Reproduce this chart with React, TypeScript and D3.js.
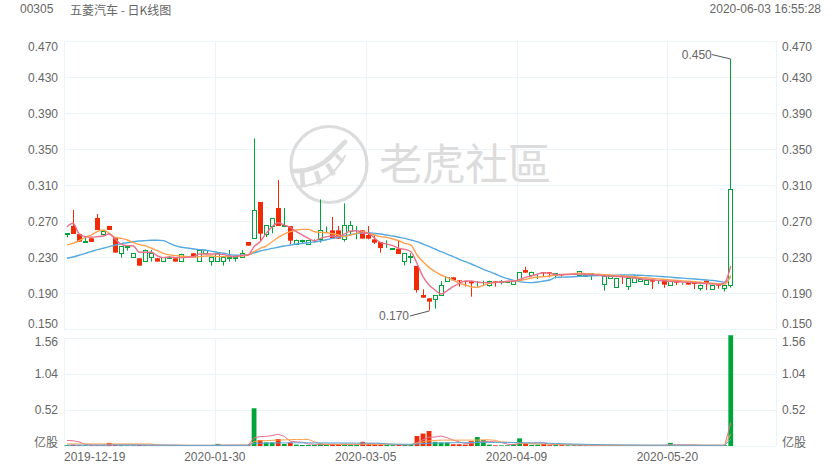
import React from "react";
import * as D3 from "d3";

const opens = [.2552,.2645,.2556,.2463,.2508,.2734,.2560,.2645,.2515,.2341,.2412,.2297,.2286,.2256,.2297,.2286,.2252,.2286,.2286,.2252,.2341,.2341,.2252,.2341,.2252,.2252,.2252,.2286,.2286,.2297,.2467,
.2507,.2911,.2559,.2644,.2844,.2640,.2644,.2448,.2481,.2448,.2489,.2496,.2596,.2596,.2596,.2496,.2592,.2585,.2596,.2544,.2496,.2466,.2400,.2392,.2392,.2259,.2303,
.2200,.1878,.1841,.1837,.1874,.2029,.2074,.2041,.2033,.2030,.2007,.2014,.1992,.2030,.2026,.2026,.1996,.2044,.2155,.2096,.2099,.2133,.2130,
.2096,.2107,.2100,.2100,.2104,.2089,.2096,.2096,.1996,.2070,.1963,.2096,.1974,.2026,.2037,.1996,.2048,.2036,.2041,.1993,.2037,.2000,.2026,.2011,.1959,.2037,.1948,.1993,.1952,.1993];
const closes = [.2563,.2556,.2471,.2478,.2467,.2600,.2593,.2600,.2349,.2419,.2419,.2341,.2204,.2382,.2345,.2249,.2297,.2300,.2249,.2337,.2342,.2297,.2382,.2382,.2297,.2341,.2297,.2297,.2297,.2341,.2426,
.2819,.2559,.2652,.2729,.2644,.2652,.2481,.2493,.2493,.2489,.2493,.2596,.2600,.2504,.2504,.2652,.2652,.2592,.2504,.2504,.2459,.2400,.2401,.2400,.2333,.2341,.2307,
.1933,.1848,.1804,.1874,.1989,.2074,.2041,.2033,.2030,.2007,.2015,.2015,.2030,.2026,.2030,.2030,.2033,.2130,.2126,.2137,.2100,.2118,.2111,
.2119,.2100,.2104,.2104,.2141,.2104,.2118,.2100,.2085,.2089,.2063,.2081,.2070,.2074,.2052,.2048,.2026,.2037,.1993,.2030,.2015,.2004,.1993,.2000,.1993,.2007,.1989,.1989,.1993,.3056];
const highs = [.2563,.2822,.2556,.2526,.2508,.2778,.2593,.2645,.2515,.2419,.2419,.2341,.2286,.2382,.2378,.2286,.2297,.2311,.2286,.2337,.2342,.2341,.2382,.2382,.2297,.2341,.2297,.2378,.2297,.2378,.2467,
.3618,.2911,.2652,.2729,.3155,.2844,.2644,.2493,.2493,.2489,.2496,.2940,.2640,.2744,.2644,.2896,.2700,.2644,.2596,.2644,.2544,.2466,.2485,.2400,.2485,.2341,.2341,
.2200,.1941,.1841,.1874,.2033,.2074,.2074,.2041,.2033,.2033,.2033,.2036,.2037,.2030,.2044,.2033,.2033,.2130,.2192,.2137,.2100,.2133,.2130,
.2119,.2107,.2104,.2104,.2141,.2104,.2118,.2100,.2085,.2089,.2063,.2096,.2070,.2100,.2052,.2048,.2048,.2037,.2041,.2030,.2037,.2010,.2026,.2011,.1993,.2037,.1989,.1993,.1993,.4500];
const lows = [.2519,.2556,.2471,.2463,.2467,.2600,.2560,.2600,.2349,.2293,.2371,.2297,.2204,.2256,.2249,.2249,.2252,.2278,.2249,.2252,.2341,.2297,.2252,.2341,.2204,.2252,.2204,.2249,.2249,.2297,.2426,
.2507,.2470,.2521,.2563,.2644,.2640,.2444,.2448,.2444,.2448,.2459,.2459,.2570,.2504,.2504,.2470,.2544,.2496,.2504,.2496,.2444,.2348,.2400,.2392,.2333,.2207,.2230,
.1904,.1848,.1704,.1726,.1874,.2029,.2041,.1970,.1970,.1859,.1970,.1985,.1970,.1970,.1996,.2015,.1996,.2044,.2126,.2096,.2055,.2081,.2074,
.2063,.2081,.2100,.2100,.2104,.2078,.2044,.2096,.1926,.2070,.1963,.2000,.1933,.2026,.2037,.1996,.1944,.2000,.1959,.1993,.1989,.1992,.1993,.1944,.1926,.1933,.1948,.1948,.1915,.1959];

const ma5 = [.2637,.2675,.2556,.2526,.2519,.2526,.2533,.2556,.2497,.2441,.2426,.2423,.2352,.2352,.2352,.2311,.2293,.2300,.2293,.2293,.2297,.2304,.2334,.2334,.2334,.2334,.2326,.2311,.2304,.2319,.2322,
.2415,.2470,.2563,.2637,.2681,.2655,.2629,.2581,.2544,.2507,.2481,.2507,.2526,.2533,.2526,.2556,.2589,.2592,.2570,.2563,.2507,.2459,.2444,.2426,.2396,.2385,.2359,
.2230,.2081,.1989,.1933,.1889,.1926,.1970,.2007,.2033,.2033,.2022,.2015,.2015,.2018,.2022,.2030,.2030,.2052,.2074,.2089,.2111,.2126,.2118,
.2107,.2105,.2106,.2108,.2110,.2106,.2104,.2100,.2092,.2088,.2084,.2081,.2074,.2066,.2058,.2052,.2047,.2040,.2035,.2030,.2027,.2022,.2018,.2015,.2008,.2004,.2000,.1996,.2015,.2200];
const ma10 = [.2434,.2452,.2482,.2519,.2544,.2582,.2600,.2563,.2519,.2507,.2489,.2459,.2437,.2423,.2397,.2371,.2341,.2323,.2315,.2308,.2304,.2300,.2304,.2311,.2311,.2304,.2304,.2304,.2304,.2311,.2322,
.2359,.2396,.2422,.2470,.2518,.2555,.2581,.2600,.2607,.2607,.2581,.2574,.2570,.2559,.2544,.2526,.2544,.2563,.2581,.2563,.2544,.2526,.2518,.2500,.2481,.2452,.2433,
.2322,.2248,.2185,.2137,.2100,.2074,.2044,.2007,.1989,.1970,.1963,.1985,.2007,.2018,.2022,.2026,.2030,.2037,.2052,.2067,.2078,.2081,.2089,
.2100,.2104,.2109,.2114,.2119,.2115,.2112,.2108,.2104,.2100,.2096,.2090,.2085,.2080,.2074,.2069,.2063,.2057,.2050,.2044,.2040,.2035,.2030,.2025,.2019,.2013,.2008,.2003,.1996,.2096];
const ma20 = [.2286,.2300,.2319,.2341,.2360,.2382,.2397,.2415,.2433,.2449,.2459,.2470,.2478,.2482,.2486,.2486,.2482,.2452,.2423,.2408,.2400,.2389,.2382,.2375,.2363,.2352,.2341,.2326,.2319,.2319,.2323,
.2345,.2367,.2381,.2396,.2409,.2422,.2433,.2444,.2452,.2459,.2468,.2478,.2492,.2507,.2520,.2533,.2548,.2563,.2567,.2570,.2563,.2555,.2544,.2533,.2520,.2507,.2489,
.2470,.2444,.2418,.2389,.2359,.2333,.2304,.2274,.2248,.2222,.2193,.2163,.2137,.2111,.2081,.2059,.2041,.2026,.2018,.2015,.2022,.2033,.2044,
.2074,.2076,.2078,.2081,.2085,.2089,.2090,.2093,.2095,.2096,.2098,.2100,.2100,.2100,.2098,.2093,.2090,.2085,.2081,.2076,.2070,.2065,.2060,.2055,.2050,.2045,.2040,.2030,.2020,.2080];

const volumes = [.012,.020,.012,.010,.010,.010,.010,.045,.015,.012,.010,.010,.015,.012,.010,.010,.010,.010,.010,.008,.008,.008,.008,.008,.010,.030,.010,.010,.008,.008,.012,
.545,.087,.053,.053,.100,.030,.053,.020,.015,.015,.015,.035,.020,.030,.025,.025,.020,.015,.060,.035,.025,.020,.015,.012,.015,.015,.015,
.144,.180,.216,.060,.050,.050,.025,.025,.020,.070,.130,.085,.020,.010,.010,.010,.030,.110,.040,.015,.020,.030,.012,
.015,.012,.010,.010,.012,.010,.010,.008,.012,.010,.010,.010,.010,.008,.008,.008,.010,.008,.010,.045,.010,.008,.008,.010,.008,.010,.010,.008,.012,1.60];
const volMa5 = [.080,.075,.060,.025,.015,.013,.012,.018,.018,.018,.018,.018,.014,.012,.012,.012,.012,.011,.011,.010,.009,.009,.008,.008,.008,.012,.012,.013,.013,.013,.012,
.120,.135,.140,.150,.170,.140,.070,.060,.055,.030,.025,.025,.022,.023,.023,.026,.025,.023,.030,.030,.030,.030,.030,.022,.017,.015,.018,
.050,.090,.125,.130,.144,.120,.085,.060,.035,.035,.055,.066,.065,.060,.050,.025,.018,.036,.040,.040,.045,.045,.025,
.022,.020,.018,.016,.012,.012,.011,.010,.011,.010,.010,.010,.010,.010,.009,.009,.009,.009,.009,.016,.016,.016,.016,.016,.010,.009,.009,.009,.010,.336];
const volMa10 = [.030,.030,.030,.030,.030,.030,.030,.030,.030,.030,.030,.030,.030,.030,.030,.015,.012,.012,.012,.011,.011,.010,.010,.010,.010,.010,.010,.011,.011,.011,.011,
.065,.075,.078,.082,.085,.088,.092,.094,.095,.095,.060,.030,.028,.027,.026,.026,.025,.025,.026,.026,.026,.025,.024,.024,.024,.022,.020,
.040,.060,.075,.080,.085,.085,.085,.085,.085,.085,.085,.090,.090,.080,.060,.055,.050,.040,.035,.030,.028,.028,.028,
.028,.026,.024,.022,.020,.018,.016,.014,.012,.011,.011,.010,.010,.010,.010,.010,.010,.010,.010,.012,.012,.012,.012,.012,.012,.012,.012,.012,.012,.170];
const volMa20 = [.012,.012,.012,.013,.013,.013,.013,.014,.014,.014,.014,.014,.014,.014,.014,.014,.013,.012,.011,.010,.009,.009,.009,.009,.009,.010,.010,.010,.010,.010,.012,
.038,.040,.042,.044,.045,.045,.046,.046,.046,.046,.046,.045,.045,.044,.044,.044,.043,.042,.042,.042,.042,.040,.030,.026,.025,.025,.024,
.030,.034,.040,.042,.045,.046,.047,.048,.048,.049,.050,.052,.052,.052,.050,.050,.050,.048,.047,.046,.045,.045,.040,
.035,.032,.030,.028,.026,.024,.022,.020,.018,.017,.016,.015,.014,.014,.013,.013,.012,.012,.012,.012,.012,.012,.012,.011,.011,.011,.011,.011,.011,.097];

const bandCount = 118;
const priceTicks = [0.47, 0.43, 0.39, 0.35, 0.31, 0.27, 0.23, 0.19, 0.15];
const volumeTicks = [0.52, 1.04, 1.56];
const dateLabels = ["2019-12-19", "2020-01-30", "2020-03-05", "2020-04-09", "2020-05-20"];
const dateIndex = [0, 25, 50, 75, 100];
const maxPoint = { index: 110, value: 0.45, label: "0.450" };
const minPoint = { index: 60, value: 0.17, label: "0.170" };

const GREEN = "#00a53a", RED = "#f02a05", PINK = "#e8708c", ORANGE = "#ffa04d", BLUE = "#55a9e0";
const GRID = "#ebf4f9", TEXT = "#666", WM = "#dcdcdc";
const FONT = "'Liberation Sans', Arial, sans-serif";
const CJK = "'Noto Sans CJK SC', sans-serif";

const L = 64, R = 776;
const x = D3.scaleLinear().domain([0, bandCount]).range([L, R]);
const cx = (i: number) => x(i + 0.5);
const y = D3.scaleLinear().domain([0.15, 0.47]).range([329, 41]);
const vy = D3.scaleLinear().domain([0, 1.56]).range([446, 338]);
const priceLine = D3.line<number>().x((_, i) => cx(i)).y((d) => y(d)).curve(D3.curveMonotoneX);
const volLine = D3.line<number>().x((_, i) => cx(i)).y((d) => vy(d));

function Watermark() {
  return (
    <g fill="none" stroke={WM} strokeLinecap="round">
      <circle cx={329} cy={164.5} r={38} strokeWidth={3.2} />
      <path d="M292,171 C305,172 322,168 335,152 L345,142" strokeWidth={4.6} />
      <path d="M297,187 C315,186 333,178 345,156" strokeWidth={2} />
      <g strokeLinecap="butt" strokeWidth={4.6}>
        <path d="M302,172 L303,187" />
        <path d="M316,171 L320,184" />
        <path d="M327,164 L334,175" />
        <path d="M336,155 L343,162" strokeWidth={3.5} />
      </g>
      <text x={379} y={180} fontSize={43} stroke="none" fontFamily="'Noto Sans CJK TC', sans-serif" fill={WM}>老虎社區</text>
    </g>
  );
}

function Candle({ i }: { i: number }) {
  const o = opens[i], c = closes[i], up = c >= o;
  const col = up ? GREEN : RED;
  const px = Math.floor(cx(i));
  const top = y(Math.max(o, c)), bot = y(Math.min(o, c));
  const wick = px + 0.5;
  return (
    <g>
      <line x1={wick} x2={wick} y1={y(highs[i])} y2={y(lows[i])} stroke={col} strokeWidth={1} />
      {up ? (
        <rect x={px - 1.5} y={Math.round(top) + 0.5} width={4} height={Math.max(0, Math.round(bot) - Math.round(top))} fill="#fff" stroke={col} strokeWidth={1} />
      ) : (
        <rect x={px - 2} y={top} width={5} height={Math.max(1, bot - top)} fill={col} />
      )}
    </g>
  );
}

function Tick({ xx, yy, anchor, children }: any) {
  return (
    <text x={xx} y={yy} textAnchor={anchor} dominantBaseline="central" fontSize={12} fontFamily={FONT} fill={TEXT}>{children}</text>
  );
}

function priceLabelY(v: number) {
  if (v === 0.47) return y(v) + 6;
  if (v === 0.15) return y(v) - 5.5;
  return y(v) + 0.5;
}
function volLabelY(v: number) {
  return v === 1.56 ? vy(v) + 4 : vy(v);
}

export default function App() {
  const idx = D3.range(closes.length);
  return (
    <svg width={840} height={470} style={{ position: "absolute", left: 0, top: 0, background: "#fff" }}>
      <text x={20} y={9} dominantBaseline="central" fontSize={12} fontFamily={FONT} fill={TEXT}>00305</text>
      <text x={70} y={9} dominantBaseline="central" fontSize={12} fontFamily={CJK} fill={TEXT}>五菱汽车 - 日K线图</text>
      <text x={821} y={9} textAnchor="end" dominantBaseline="central" fontSize={12} fontFamily={FONT} fill={TEXT}>2020-06-03 16:55:28</text>

      {priceTicks.map((v) => (
        <line key={v} x1={L} x2={R} y1={Math.round(y(v)) + 0.5} y2={Math.round(y(v)) + 0.5} stroke={GRID} />
      ))}
      {[0, ...volumeTicks].map((v) => (
        <line key={v} x1={L} x2={R} y1={Math.round(vy(v)) + 0.5} y2={Math.round(vy(v)) + 0.5} stroke={GRID} />
      ))}
      {dateIndex.map((d) => (
        <g key={d}>
          <line x1={Math.round(x(d)) + 0.5} x2={Math.round(x(d)) + 0.5} y1={41} y2={329} stroke={GRID} />
          <line x1={Math.round(x(d)) + 0.5} x2={Math.round(x(d)) + 0.5} y1={338} y2={446} stroke={GRID} />
        </g>
      ))}
      <line x1={R + 0.5} x2={R + 0.5} y1={41} y2={329} stroke={GRID} />
      <line x1={R + 0.5} x2={R + 0.5} y1={338} y2={446} stroke={GRID} />

      <Watermark />

      {idx.map((i) => <Candle key={i} i={i} />)}
      <path d={priceLine(ma20) || ""} fill="none" stroke={BLUE} strokeWidth={1.4} />
      <path d={priceLine(ma10) || ""} fill="none" stroke={ORANGE} strokeWidth={1.4} />
      <path d={priceLine(ma5) || ""} fill="none" stroke={PINK} strokeWidth={1.4} />

      {idx.map((i) => (
        <rect key={i} x={cx(i) - 2.4} y={vy(volumes[i])} width={4.8} height={446 - vy(volumes[i])} fill={closes[i] >= opens[i] ? GREEN : RED} />
      ))}
      <path d={volLine(volMa5) || ""} fill="none" stroke={PINK} strokeWidth={1} />
      <path d={volLine(volMa10) || ""} fill="none" stroke={ORANGE} strokeWidth={1} />
      <path d={volLine(volMa20) || ""} fill="none" stroke={BLUE} strokeWidth={1} />

      {priceTicks.map((v) => (
        <g key={v}>
          <Tick xx={58} yy={priceLabelY(v)} anchor="end">{v.toFixed(3)}</Tick>
          <Tick xx={782} yy={priceLabelY(v)} anchor="start">{v.toFixed(3)}</Tick>
        </g>
      ))}
      {volumeTicks.map((v) => (
        <g key={v}>
          <Tick xx={58} yy={volLabelY(v)} anchor="end">{v.toFixed(2)}</Tick>
          <Tick xx={782} yy={volLabelY(v)} anchor="start">{v.toFixed(2)}</Tick>
        </g>
      ))}
      <text x={58} y={441} textAnchor="end" dominantBaseline="central" fontSize={12} fontFamily={CJK} fill={TEXT}>亿股</text>
      <text x={782} y={441} dominantBaseline="central" fontSize={12} fontFamily={CJK} fill={TEXT}>亿股</text>

      {dateIndex.map((d, k) => (
        <text key={d} x={k === 0 ? L : x(d)} y={457} textAnchor={k === 0 ? "start" : "middle"} dominantBaseline="central" fontSize={12} fontFamily={FONT} fill={TEXT}>{dateLabels[k]}</text>
      ))}

      <path d={`M${cx(maxPoint.index)},${y(maxPoint.value)} L${cx(maxPoint.index) - 19},${y(maxPoint.value) - 4.5}`} fill="none" stroke="#555" />
      <text x={cx(maxPoint.index) - 19} y={y(maxPoint.value) - 4.5} textAnchor="end" dominantBaseline="central" fontSize={12} fontFamily={FONT} fill={TEXT}>{maxPoint.label}</text>
      <path d={`M${cx(minPoint.index)},${y(minPoint.value)} L${cx(minPoint.index) - 19},${y(minPoint.value) + 5}`} fill="none" stroke="#555" />
      <text x={cx(minPoint.index) - 20} y={y(minPoint.value) + 5} textAnchor="end" dominantBaseline="central" fontSize={12} fontFamily={FONT} fill={TEXT}>{minPoint.label}</text>
    </svg>
  );
}
